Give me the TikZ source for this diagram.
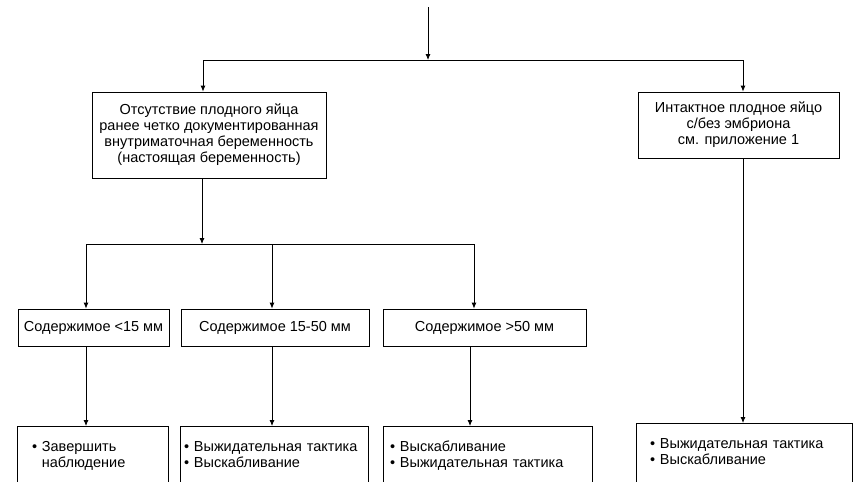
\documentclass[tikz,border=0pt]{standalone}
\usepackage{fontspec}
\setmainfont{Liberation Sans}
\usetikzlibrary{arrows.meta}

\begin{document}
\begin{tikzpicture}[x=1pt,y=-1pt,
    box/.style={draw=black, line width=0.8pt, inner sep=0pt, font=\fontsize{14.5}{16}\selectfont},
    endbox/.style={box, anchor=north, align=left, inner ysep=14pt, text height=11pt, text depth=45pt},
    link/.style={draw=black, line width=0.8pt},
    arr/.style={link, -{Latex[length=6pt,width=5pt]}}]
    \clip (0,0) rectangle (855,482);
    \fill [white] (0,0) rectangle (855,482);
    % first level
    \node [box, align=center, minimum width=234, minimum height=86] (absent) at (209,135)
        {Отсутствие плодного яйца\\ранее четко документированная\\внутриматочная беременность\\(настоящая беременность)};
    \node [box, align=center, minimum width=201, minimum height=66] (intact) at (738.5,125)
        {Интактное плодное яйцо\\с/без эмбриона\\см. приложение 1};
    % second level
    \node [box, minimum width=151, minimum height=37] (small) at (93.5,327.5) {Содержимое <15 мм};
    \node [box, minimum width=188, minimum height=37] (medium) at (275,327.5) {Содержимое 15-50 мм};
    \node [box, minimum width=203, minimum height=37] (large) at (484.5,327.5) {Содержимое >50 мм};
    % results
    \node [endbox, inner xsep=15pt, text width=121pt] (endSmall) at (92.5,426)
        {• Завершить\\\phantom{• }наблюдение};
    \node [endbox, inner xsep=4pt, text width=180pt] (endMedium) at (274,426)
        {• Выжидательная тактика\\• Выскабливание};
    \node [endbox, inner xsep=7pt, text width=195pt] (endLarge) at (487.5,426)
        {• Выскабливание\\• Выжидательная тактика};
    \node [endbox, inner xsep=14pt, text width=188pt] (endIntact) at (744,423)
        {• Выжидательная тактика\\• Выскабливание};
    % connectors
    \coordinate (top) at (428,7);
    \coordinate (fork) at (428,60);
    \coordinate (forkL) at (203,60);
    \coordinate (forkR) at (743,60);
    \draw [arr] (top) -- (fork);
    \draw [link] (forkL) -- (forkR);
    \draw [arr] (forkL) -- (forkL |- absent.north);
    \draw [arr] (forkR) -- (forkR |- intact.north);
    \draw [arr] (forkR |- intact.south) -- (forkR |- endIntact.north);
    \coordinate (split) at (202,244);
    \draw [arr] (split |- absent.south) -- (split);
    \coordinate (s-small) at (86,244);
    \coordinate (s-medium) at (272,244);
    \coordinate (s-large) at (474,244);
    \draw [link] (s-small) -- (s-large);
    \foreach \n in {small, medium, large}
        \draw [arr] (s-\n) -- (s-\n |- \n.north);
    \coordinate (d-large) at (470,400);
    \draw [arr] (s-small |- small.south) -- (s-small |- endSmall.north);
    \draw [arr] (s-medium |- medium.south) -- (s-medium |- endMedium.north);
    \draw [arr] (d-large |- large.south) -- (d-large |- endLarge.north);
\end{tikzpicture}
\end{document}
